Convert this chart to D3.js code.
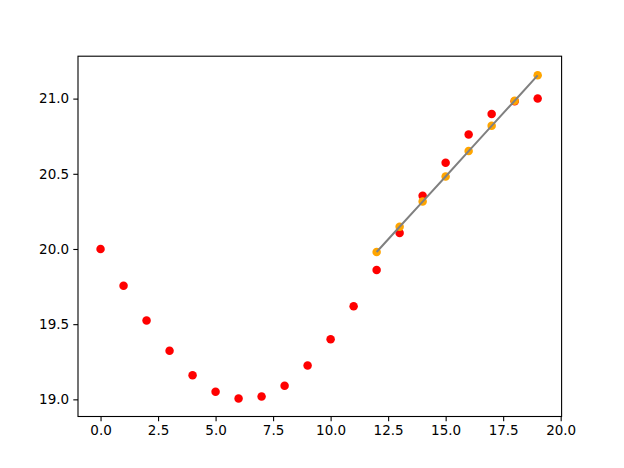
<!DOCTYPE html>
<html>
<head>
<meta charset="utf-8">
<script src="https://cdn.jsdelivr.net/npm/d3@7"></script>
<style>
  html, body { margin: 0; padding: 0; background: #fff; }
  svg { display: block; }
  .tick text { font-family: "DejaVu Sans", sans-serif; font-size: 13.5px; fill: #000; }
</style>
</head>
<body>
<svg id="chart" width="624" height="468"></svg>
<script>
// Observed series (red)
const xObs = [0,1,2,3,4,5,6,7,8,9,10,11,12,13,14,15,16,17,18,19];
const yObs = [20.00,19.756,19.524,19.323,19.161,19.050,19.006,19.019,19.090,19.225,
              19.400,19.619,19.860,20.106,20.354,20.573,20.761,20.898,20.983,21.000];
// Fitted series (orange points + gray line)
const xFit = [12,13,14,15,16,17,18,19];
const yFit = [19.980,20.148,20.315,20.482,20.651,20.819,20.986,21.155];
// Tick labels
const xTicks = [0,2.5,5,7.5,10,12.5,15,17.5,20];
const yTicks = [19.0,19.5,20.0,20.5,21.0];

const svg = d3.select("#chart");
const L = 78, R = 561.6, T = 56.2, B = 416.5;

const x = d3.scaleLinear().domain([-0.98, 20.04]).range([L, R]);
const y = d3.scaleLinear().domain([18.886, 21.282]).range([B, T]);

// red points
svg.append("g").selectAll("circle").data(xObs).join("circle")
  .attr("cx", (d) => x(d)).attr("cy", (d, i) => y(yObs[i]))
  .attr("r", 4.25).attr("fill", "#ff0000");

// orange points
svg.append("g").selectAll("circle").data(xFit).join("circle")
  .attr("cx", (d) => x(d)).attr("cy", (d, i) => y(yFit[i]))
  .attr("r", 4.25).attr("fill", "#ffa500");

// gray line
const line = d3.line().x((d) => x(d)).y((d, i) => y(yFit[i]));
svg.append("path").datum(xFit).attr("d", line)
  .attr("fill", "none").attr("stroke", "#808080").attr("stroke-width", 2);

// axes
const fmt = d3.format(".1f");
const xAxis = d3.axisBottom(x).tickValues(xTicks).tickFormat(fmt).tickSizeInner(4.7).tickSizeOuter(0).tickPadding(4.2);
const yAxis = d3.axisLeft(y).tickValues(yTicks).tickFormat(fmt).tickSizeInner(4.7).tickSizeOuter(0).tickPadding(4.2);

const gx = svg.append("g").attr("transform", `translate(0,${B})`).call(xAxis);
const gy = svg.append("g").attr("transform", `translate(${L},0)`).call(yAxis);
[gx, gy].forEach(g => {
  g.select(".domain").remove();
  g.selectAll(".tick line").attr("stroke", "#000").attr("stroke-width", 1.1);
});

// frame (spines)
svg.append("rect").attr("x", L).attr("y", T).attr("width", R - L).attr("height", B - T)
  .attr("fill", "none").attr("stroke", "#000").attr("stroke-width", 1.1);
</script>
</body>
</html>
